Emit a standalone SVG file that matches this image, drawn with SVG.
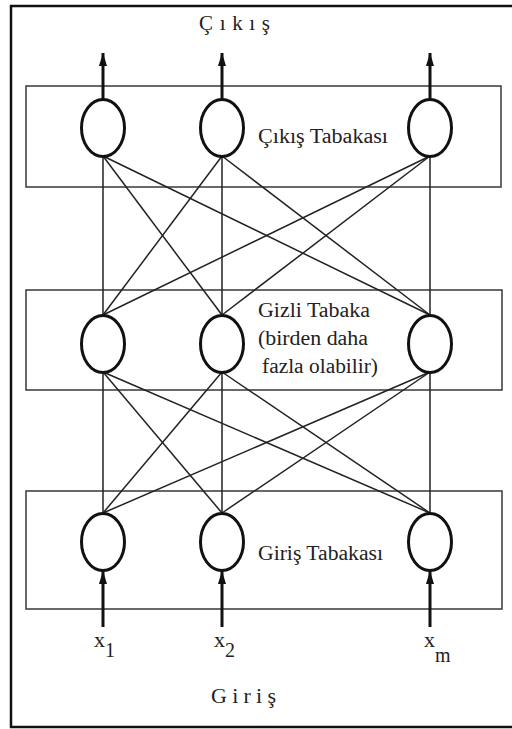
<svg xmlns="http://www.w3.org/2000/svg" width="512" height="729" viewBox="0 0 512 729">
<defs>
<style>
.frame{fill:none;stroke:#111;stroke-width:2.5}
.box{fill:none;stroke:#444;stroke-width:1.6}
.node{fill:#fff;stroke:#111;stroke-width:3}
.conn{stroke:#222;stroke-width:1.5;fill:none}
.arrow{stroke:#111;stroke-width:3;fill:none;marker-end:url(#ah)}
.lbl{font-size:20px;fill:#222}
.io{fill:#222}
</style>
<marker id="ah" markerUnits="userSpaceOnUse" markerWidth="13" markerHeight="21" refX="21" refY="6.5" orient="auto" viewBox="0 0 21 13">
<path d="M0,0 L21,6.5 L0,13 z" fill="#111"/>
</marker>
</defs>
<rect width="512" height="729" fill="#fff"/>
<rect class="frame" x="11" y="6" width="520" height="721"/>

<g id="layers">
<rect id="output-layer" class="box" x="26" y="86" width="475" height="101"/>
<rect id="hidden-layer" class="box" x="26" y="290" width="476" height="100"/>
<rect id="input-layer" class="box" x="26" y="491" width="476" height="118"/>
</g>

<g id="connectors">
<line class="conn" x1="103" y1="156" x2="103" y2="315"/>
<line class="conn" x1="103" y1="156" x2="222" y2="315"/>
<line class="conn" x1="103" y1="156" x2="430" y2="315"/>
<line class="conn" x1="222" y1="156" x2="103" y2="315"/>
<line class="conn" x1="222" y1="156" x2="222" y2="315"/>
<line class="conn" x1="222" y1="156" x2="430" y2="315"/>
<line class="conn" x1="430" y1="156" x2="103" y2="315"/>
<line class="conn" x1="430" y1="156" x2="222" y2="315"/>
<line class="conn" x1="430" y1="156" x2="430" y2="315"/>
<line class="conn" x1="103" y1="372" x2="103" y2="513"/>
<line class="conn" x1="103" y1="372" x2="222" y2="513"/>
<line class="conn" x1="103" y1="372" x2="430" y2="513"/>
<line class="conn" x1="222" y1="372" x2="103" y2="513"/>
<line class="conn" x1="222" y1="372" x2="222" y2="513"/>
<line class="conn" x1="222" y1="372" x2="430" y2="513"/>
<line class="conn" x1="430" y1="372" x2="103" y2="513"/>
<line class="conn" x1="430" y1="372" x2="222" y2="513"/>
<line class="conn" x1="430" y1="372" x2="430" y2="513"/>
<line class="arrow" x1="103" y1="100" x2="103" y2="53"/>
<line class="arrow" x1="222" y1="100" x2="222" y2="53"/>
<line class="arrow" x1="430" y1="100" x2="430" y2="53"/>
<line class="arrow" x1="103" y1="627" x2="103" y2="571"/>
<line class="arrow" x1="222" y1="627" x2="222" y2="571"/>
<line class="arrow" x1="430" y1="627" x2="430" y2="571"/>
</g>

<g id="out1"><ellipse class="node" cx="103" cy="128" rx="21.5" ry="28.5"/></g>
<g id="out2"><ellipse class="node" cx="222" cy="128" rx="21.5" ry="28.5"/></g>
<g id="outm"><ellipse class="node" cx="430" cy="128" rx="21.5" ry="28.5"/></g>
<g id="hid1"><ellipse class="node" cx="103" cy="344" rx="21.5" ry="28.5"/></g>
<g id="hid2"><ellipse class="node" cx="222" cy="344" rx="21.5" ry="28.5"/></g>
<g id="hidm"><ellipse class="node" cx="430" cy="344" rx="21.5" ry="28.5"/></g>
<g id="in1"><ellipse class="node" cx="103" cy="542" rx="21.5" ry="28.5"/></g>
<g id="in2"><ellipse class="node" cx="222" cy="542" rx="21.5" ry="28.5"/></g>
<g id="inm"><ellipse class="node" cx="430" cy="542" rx="21.5" ry="28.5"/></g>

<g id="labels" font-family="'Liberation Serif', 'Times New Roman', serif">
<text class="io" x="199" y="30" font-size="21" textLength="71" lengthAdjust="spacing">Çıkış</text>
<text class="lbl" x="258" y="143" textLength="130" lengthAdjust="spacingAndGlyphs">Çıkış Tabakası</text>
<text class="lbl" x="258" y="317" textLength="112" lengthAdjust="spacingAndGlyphs">Gizli Tabaka</text>
<text class="lbl" x="258" y="345" textLength="110" lengthAdjust="spacingAndGlyphs">(birden daha</text>
<text class="lbl" x="262" y="373" textLength="116" lengthAdjust="spacingAndGlyphs">fazla olabilir)</text>
<text class="lbl" x="258" y="560" textLength="125" lengthAdjust="spacingAndGlyphs">Giriş Tabakası</text>
<text class="io" x="94" y="647" font-size="22">x<tspan font-size="20" dy="10">1</tspan></text>
<text class="io" x="214" y="647" font-size="22">x<tspan font-size="20" dy="10">2</tspan></text>
<text class="io" x="424" y="647" font-size="22">x<tspan font-size="20" dy="15">m</tspan></text>
<text class="io" x="211" y="703" font-size="22" textLength="65" lengthAdjust="spacing">Giriş</text>
</g>
</svg>
